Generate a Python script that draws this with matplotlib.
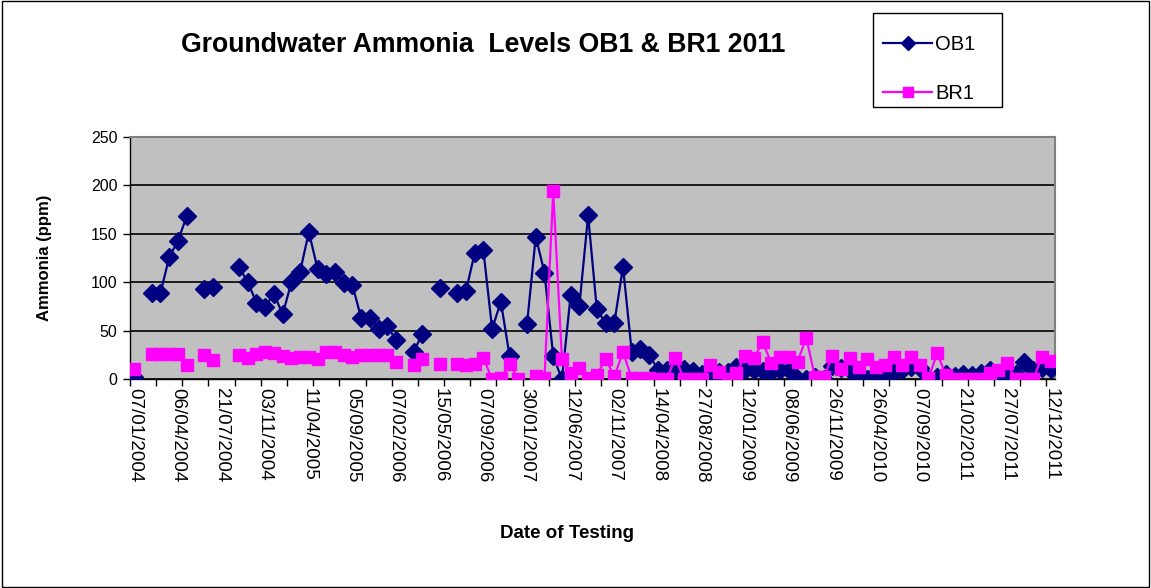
import matplotlib
matplotlib.use('Agg')
import matplotlib.pyplot as plt
import numpy as np
from matplotlib.patches import Rectangle

plt.rcParams['font.family'] = ['Liberation Sans', 'DejaVu Sans']

# 日期标签（每5个采样点显示一个）
date_labels = ['07/01/2004', '06/04/2004', '21/07/2004', '03/11/2004', '11/04/2005',
               '05/09/2005', '07/02/2006', '15/05/2006', '07/09/2006', '30/01/2007',
               '12/06/2007', '02/11/2007', '14/04/2008', '27/08/2008', '12/01/2009',
               '08/06/2009', '26/11/2009', '26/04/2010', '07/09/2010', '21/02/2011',
               '27/07/2011', '12/12/2011']

# OB1 数据 (None = 无读数)
ob1 = [2, None, 89, 89, 126, 143, 168, None, 93, 95,
       None, None, 116, 100, 79, 75, 88, 67, 100, 111,
       152, 114, 109, 111, 99, 97, 63, 63, 52, 55,
       40, None, 28, 47, None, 94, None, 89, 91, 130,
       133, 52, 80, 24, None, 57, 147, 110, 24, 0,
       87, 76, 169, 72, 58, 58, 116, 28, 31, 25,
       10, 10, 11, 11, 9, 5, 6, 8, 8, 13,
       10, 10, 9, 8, 10, 10, 0, 0, 2, 0,
       14, 12, 10, 0, 0, 6, 5, 8, 10, 13,
       12, 0, 2, 5, 3, 5, 4, 6, 10, 3,
       8, 5, 18, 10, 12, 11]

# BR1 数据
br1 = [11, None, 26, 26, 26, 26, 15, None, 25, 20,
       None, None, 25, 22, 26, 28, 27, 24, 22, 23,
       23, 21, 28, 28, 25, 23, 25, 25, 25, 25,
       18, None, 15, 21, None, 16, None, 16, 15, 16,
       22, 0, 1, 16, 0, None, 3, 1, 194, 21,
       6, 12, 1, 4, 21, 3, 28, 1, 1, 1,
       0, 0, 22, 0, 0, 0, 15, 7, 0, 6,
       24, 22, 38, 17, 23, 23, 18, 43, 2, 2,
       24, 11, 22, 13, 21, 13, 15, 23, 15, 23,
       15, 1, 27, 4, 0, 0, 0, 0, 6, 10,
       17, 0, 0, 0, 23, 19]

y_ob1 = np.array(ob1, dtype=float)
y_br1 = np.array(br1, dtype=float)
x = np.arange(len(ob1))

W, H = 1151, 588
fig = plt.figure(figsize=(W / 100, H / 100), dpi=100)
fig.patch.set_facecolor('white')
fig.patches.append(Rectangle((0.002, 0.002), 0.996, 0.996, transform=fig.transFigure,
                             fill=False, edgecolor='black', linewidth=1))

ax = fig.add_axes([0.1129, 0.355, 0.8037, 0.412])
ax.set_facecolor('#C0C0C0')

ax.plot(x, y_ob1, color='#000080', marker='D', markersize=9, linewidth=1.6, label='OB1', zorder=3)
ax.plot(x, y_br1, color='#FF00FF', marker='s', markersize=9, linewidth=1.6, label='BR1', zorder=4)

ax.set_xlim(-0.5, len(ob1) - 0.5)
ax.set_ylim(0, 250)
ax.set_yticks(np.arange(0, 251, 50))
ax.yaxis.grid(True, color='black', linewidth=1.2)
ax.set_axisbelow(True)

# 刻度线每3个点，标签每5个点
ax.set_xticks(np.arange(0, len(ob1), 5))
ax.set_xticklabels(date_labels, rotation=270, fontsize=13.5)
ax.set_xticks(np.arange(-0.5, len(ob1), 3), minor=True)
ax.tick_params(axis='x', which='major', length=0, pad=6)
ax.tick_params(axis='x', which='minor', length=5, width=1, direction='out')
ax.tick_params(axis='y', labelsize=11.5, length=5, width=1, direction='out', pad=4)

for s in ['top', 'right']:
    ax.spines[s].set_color('#808080')
    ax.spines[s].set_linewidth(1.5)
for s in ['left', 'bottom']:
    ax.spines[s].set_color('black')
    ax.spines[s].set_linewidth(1)

fig.text(0.42, 0.923, 'Groundwater Ammonia  Levels OB1 & BR1 2011', ha='center', va='center',
         fontsize=19.2, fontweight='bold')
fig.text(0.039, 0.561, 'Ammonia (ppm)', rotation=90, ha='center', va='center',
         fontsize=12, fontweight='bold')
fig.text(0.493, 0.0935, 'Date of Testing', ha='center', va='center',
         fontsize=13.5, fontweight='bold')

# 图例框单独画
fig.patches.append(Rectangle((873 / W, 1 - 107 / H), 129 / W, 94 / H, transform=fig.transFigure,
                             fill=False, edgecolor='black', linewidth=1))
leg = ax.legend(loc='center left', bbox_to_anchor=(883 / W, 1 - 69 / H), bbox_transform=fig.transFigure,
                fontsize=14.5, frameon=False, handlelength=2.45, labelspacing=1.47,
                borderpad=0, handletextpad=0.15, borderaxespad=0)
for h in leg.legend_handles:
    h.set_markersize(7)

fig.savefig('out.png', dpi=100)
